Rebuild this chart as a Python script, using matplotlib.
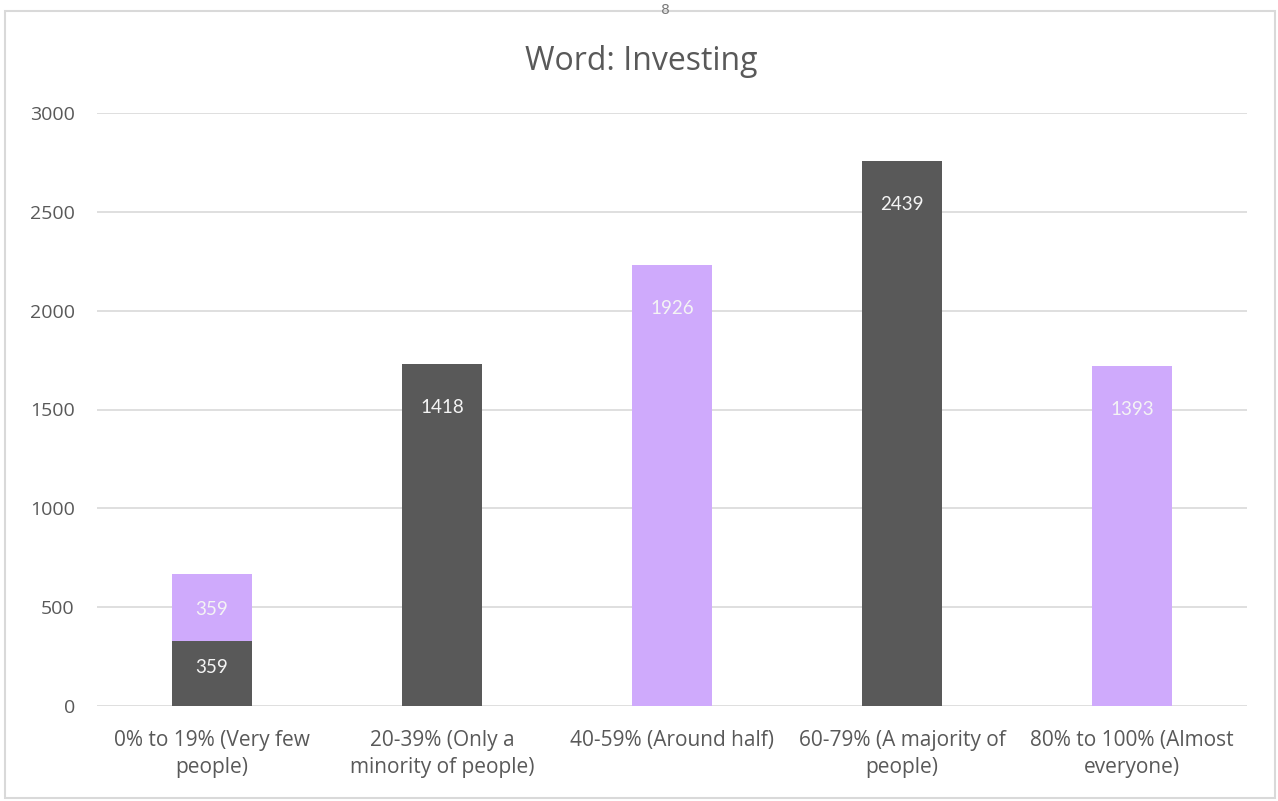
import matplotlib
matplotlib.use("Agg")
import matplotlib.pyplot as plt
from matplotlib.patches import Rectangle

categories = ["0% to 19% (Very few\npeople)", "20-39% (Only a\nminority of people)",
              "40-59% (Around half)", "60-79% (A majority of\npeople)",
              "80% to 100% (Almost\neveryone)"]
# bar heights as drawn (bottom segment / top segment)
dark_heights = [330, 1730, 0, 2757, 0]
purple_heights = [338, 0, 2231, 0, 1720]
dark_labels = ["359", "1418", "", "2439", ""]
purple_labels = ["359", "", "1926", "", "1393"]
yticks = [0, 500, 1000, 1500, 2000, 2500, 3000]

DARK = "#595959"
PURPLE = "#CFAAFC"
GRID = "#D9D9D9"
TXT = "#595959"

W, H = 1278, 801
fig = plt.figure(figsize=(W / 100, H / 100), dpi=100)
ax = fig.add_axes([97 / W, 1 - 706 / H, 1150 / W, (706 - 113) / H])

x = list(range(len(categories)))
ax.bar(x, dark_heights, width=0.348, color=DARK, zorder=3)
ax.bar(x, purple_heights, width=0.348, bottom=dark_heights, color=PURPLE, zorder=3)

lab_font = dict(family=["Lato", "DejaVu Sans"], fontsize=13.5,
                color="#F4F4F4", zorder=4)
for i in x:
    d, p = dark_heights[i], purple_heights[i]
    if d and p:
        ax.text(i, d / 2 + 30, dark_labels[i], ha="center", va="center", **lab_font)
        ax.text(i, d + p / 2 - 10, purple_labels[i], ha="center", va="center", **lab_font)
    elif d:
        ax.text(i, d - 222, dark_labels[i], ha="center", va="center", **lab_font)
    elif p:
        ax.text(i, p - 222, purple_labels[i], ha="center", va="center", **lab_font)

ax.set_xlim(-0.5, len(categories) - 0.5)
ax.set_ylim(0, 3000)
ax.set_yticks(yticks)
ax.set_yticklabels([str(t) for t in yticks], family=["Open Sans", "DejaVu Sans"],
                   fontsize=14, color=TXT)
ax.set_xticks(x)
ax.set_xticklabels(categories, family=["Open Sans", "DejaVu Sans"], fontsize=15,
                   color=TXT, linespacing=1.42)
ax.tick_params(axis="both", length=0)
ax.tick_params(axis="y", pad=16)
ax.tick_params(axis="x", pad=17)
ax.grid(axis="y", color=GRID, linewidth=1.2, zorder=0)
for s in ax.spines.values():
    s.set_visible(False)

fig.text(641 / W, 1 - 62 / H, "Word: Investing", ha="center", va="center",
         family=["Open Sans", "DejaVu Sans"], fontsize=23, color=TXT)
fig.text(665 / W, 1 - 10 / H, "8", ha="center", va="center",
         family=["DejaVu Sans"], fontsize=10, color="#777777")
fig.patches.append(Rectangle((5 / W, 1 - 798 / H), 1270 / W, 787 / H,
                             transform=fig.transFigure, fill=False,
                             edgecolor=GRID, linewidth=1.5))
fig.savefig("out.png", dpi=100)
